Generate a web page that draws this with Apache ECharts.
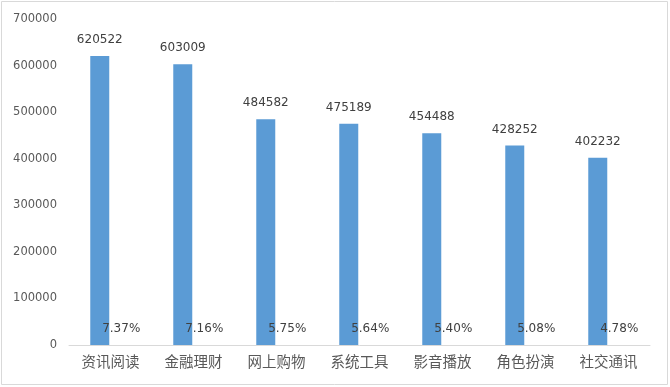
<!DOCTYPE html>
<html><head><meta charset="utf-8">
<script src="https://cdn.jsdelivr.net/npm/echarts@6/dist/echarts.min.js"></script>
<style>html,body{margin:0;padding:0;background:#fff}#c{width:670px;height:387px}</style>
</head><body><div id="c"></div>
<script>
const categories = ['资讯阅读','金融理财','网上购物','系统工具','影音播放','角色扮演','社交通讯'];
const users = [620522, 603009, 484582, 475189, 454488, 428252, 402232];
const shares = [7.37, 7.16, 5.75, 5.64, 5.40, 5.08, 4.78];
const yTicks = [0,100000,200000,300000,400000,500000,600000,700000];

const cjk = '"Noto Sans CJK SC", "Microsoft YaHei", sans-serif';
const num = '"DejaVu Sans", sans-serif';
const chart = echarts.init(document.getElementById('c'));
chart.setOption({
  animation: false,
  graphic: [{type:'rect', shape:{x:1.5,y:1.5,width:666,height:383}, style:{fill:'none', stroke:'#d9d9d9', lineWidth:1}}],
  grid: {left: 69, right: 20, top: 19, bottom: 42},
  xAxis: {
    type: 'category', data: categories,
    axisLine: {lineStyle: {color: '#d9d9d9'}},
    axisTick: {show: false},
    axisLabel: {color: '#595959', fontSize: 14.5, fontFamily: cjk, margin: 9}
  },
  yAxis: {
    type: 'value', min: yTicks[0], max: yTicks[yTicks.length-1], interval: 100000,
    splitLine: {show: false},
    axisLine: {show: false}, axisTick: {show: false},
    axisLabel: {color: '#595959', fontSize: 11.5, fontFamily: num, margin: 12, formatter: v => String(v)}
  },
  series: [
    {type: 'bar', data: users, barWidth: 19, barGap: '13%',
     itemStyle: {color: '#5b9bd5'},
     label: {show: true, position: 'top', distance: 10, color: '#404040', fontSize: 12, fontFamily: num}},
    {type: 'bar', data: shares, barWidth: 19,
     itemStyle: {color: '#ed7d31'},
     label: {show: true, position: 'top', distance: 10, color: '#404040', fontSize: 12, fontFamily: num,
       formatter: p => p.value.toFixed(2) + '%'}}
  ]
});
</script></body></html>
